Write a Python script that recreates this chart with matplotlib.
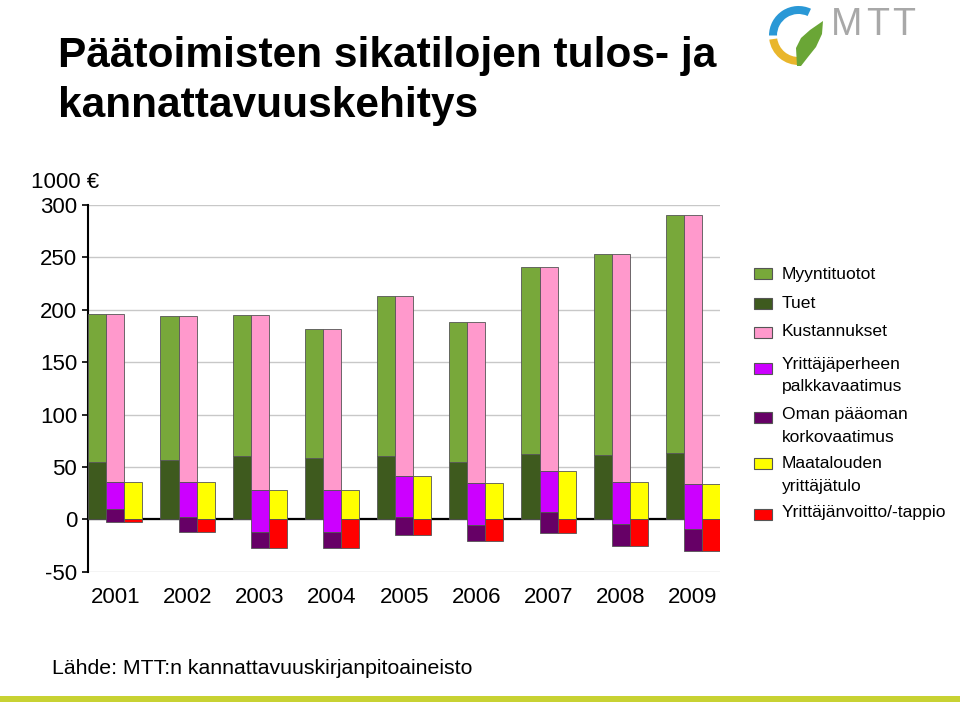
import matplotlib
matplotlib.use("Agg")
import matplotlib.pyplot as plt
import numpy as np
from matplotlib.patches import Rectangle, Wedge, Polygon

# ---------------------------------------------------------------------------
# Data (1000 €)
# ---------------------------------------------------------------------------
years          = ["2001", "2002", "2003", "2004", "2005", "2006", "2007", "2008", "2009"]
myyntituotot   = [140.6, 137.4, 133.9, 123.7, 152.1, 134.1, 178.7, 191.7, 226.7]
tuet           = [55.0, 56.6, 60.7, 58.2, 60.7, 54.4, 62.3, 61.4, 63.3]
yrittajatulo   = [35.3, 35.3, 27.7, 27.7, 41.6, 34.4, 46.1, 35.3, 33.7]
palkkavaatimus = [25.5, 33.4, 39.5, 39.5, 39.7, 39.8, 38.8, 40.1, 42.7]
korkovaatimus  = [12.1, 13.7, 15.9, 15.3, 17.2, 15.3, 20.7, 20.7, 21.5]

legend_labels = [
    ["Myyntituotot"],
    ["Tuet"],
    ["Kustannukset"],
    ["Yrittäjäperheen", "palkkavaatimus"],
    ["Oman pääoman", "korkovaatimus"],
    ["Maatalouden", "yrittäjätulo"],
    ["Yrittäjänvoitto/-tappio"],
]

# Colours
C_MYYNTI = "#78a83a"
C_TUET   = "#3e5a1e"
C_KUST   = "#ff99cc"
C_PALKKA = "#cc00ff"
C_KORKO  = "#660066"
C_TULO   = "#ffff00"
C_VOITTO = "#ff0000"
EDGE     = "#555555"
colors = [C_MYYNTI, C_TUET, C_KUST, C_PALKKA, C_KORKO, C_TULO, C_VOITTO]

FONT = ["Liberation Sans", "DejaVu Sans"]
plt.rcParams["font.family"] = FONT

# ---------------------------------------------------------------------------
# Derived series
# ---------------------------------------------------------------------------
m = np.array(myyntituotot)
t = np.array(tuet)
tulo = np.array(yrittajatulo)
palkka = np.array(palkkavaatimus)
korko = np.array(korkovaatimus)
tuotot = m + t
kustannukset = tuotot - tulo
voitto = tulo - palkka - korko

x = np.arange(len(years))
w = 0.25

fig = plt.figure(figsize=(9.6, 7.02), dpi=100)
W, H = 960, 702

ax = fig.add_axes([88.3 / W, (H - 571.7) / H, (720 - 88.3) / W, (571.7 - 205) / H])

kw = dict(width=w, align="edge", edgecolor=EDGE, linewidth=0.6, zorder=3)
# left bar: revenue
ax.bar(x - 1.5 * w, t, color=C_TUET, **kw)
ax.bar(x - 1.5 * w, m, bottom=t, color=C_MYYNTI, **kw)
# middle bar: costs and claims falling from revenue
ax.bar(x - 0.5 * w, kustannukset, bottom=tulo, color=C_KUST, **kw)
ax.bar(x - 0.5 * w, palkka, bottom=tulo - palkka, color=C_PALKKA, **kw)
ax.bar(x - 0.5 * w, korko, bottom=voitto, color=C_KORKO, **kw)
# right bar: income and profit
ax.bar(x + 0.5 * w, tulo, color=C_TULO, **kw)
ax.bar(x + 0.5 * w, voitto, color=C_VOITTO, **kw)

ax.set_xlim(-1.5 * w, len(years) - 1 + 1.5 * w)
ax.set_ylim(-50, 300)
ax.set_yticks(np.arange(-50, 301, 50))
ax.set_yticklabels([str(v) for v in range(-50, 301, 50)])
ax.yaxis.grid(True, color="#c8c8c8", linewidth=1.0, zorder=0)
ax.set_axisbelow(True)
ax.axhline(0, color="black", linewidth=1.6, zorder=2)

for s in ("top", "right", "bottom"):
    ax.spines[s].set_visible(False)
ax.spines["left"].set_linewidth(1.5)
ax.tick_params(axis="y", direction="out", length=4, width=1.2, pad=4,
               labelsize=16)
ax.set_xticks(x)
ax.set_xticklabels(years)
ax.tick_params(axis="x", length=0, pad=11, labelsize=16)

# ---------------------------------------------------------------------------
# Overlay in pixel coordinates (y measured from top)
# ---------------------------------------------------------------------------
ov = fig.add_axes([0, 0, 1, 1], zorder=-1)
ov.set_xlim(0, W)
ov.set_ylim(H, 0)
ov.axis("off")

ov.text(58, 66.7, "Päätoimisten sikatilojen tulos- ja", fontsize=30.5,
        fontweight="bold", va="baseline", ha="left")
ov.text(58, 116.7, "kannattavuuskehitys", fontsize=30.5,
        fontweight="bold", va="baseline", ha="left")

ov.text(31, 183, "1000 €", fontsize=16, va="center", ha="left")
ov.text(52, 668, "Lähde: MTT:n kannattavuuskirjanpitoaineisto",
        fontsize=15.3, va="center", ha="left")

# bottom band
ov.add_patch(Rectangle((0, 696), W, 6, facecolor="#c8d232", edgecolor="none"))

# legend
patch_y = [273, 303, 332, 368, 417, 463, 514]
text_y = [[274], [303], [331], [365, 386], [415, 437], [464, 486], [513]]
for lab, py, ty, c in zip(legend_labels, patch_y, text_y, colors):
    ov.add_patch(Rectangle((754, py - 5.5), 18, 11, facecolor=c,
                           edgecolor=EDGE, linewidth=0.8))
    for line, yy in zip(lab, ty):
        ov.text(782, yy, line, fontsize=12.6, va="center", ha="left")

# MTT logo
cx, cy, R = 798.5, 35.5, 29.5
ov.add_patch(Wedge((cx, cy), R, 180, 295, width=8, facecolor="#2a98d6",
                   edgecolor="none"))
ov.add_patch(Wedge((cx, cy), R, 88, 172, width=8, facecolor="#e9b62c",
                   edgecolor="none"))
ov.add_patch(Polygon([(797, 66), (796, 48), (801, 38), (810, 30), (823, 21),
                      (822, 34), (816, 47), (808, 57), (801, 66)],
                     closed=True, facecolor="#6aa636", edgecolor="none"))
for letter, lx in zip("MTT", (831, 866, 892)):
    ov.text(lx, 35, letter, fontsize=27, color="#a8a8a8", va="baseline",
            ha="left")

fig.savefig("out.png", dpi=100)
